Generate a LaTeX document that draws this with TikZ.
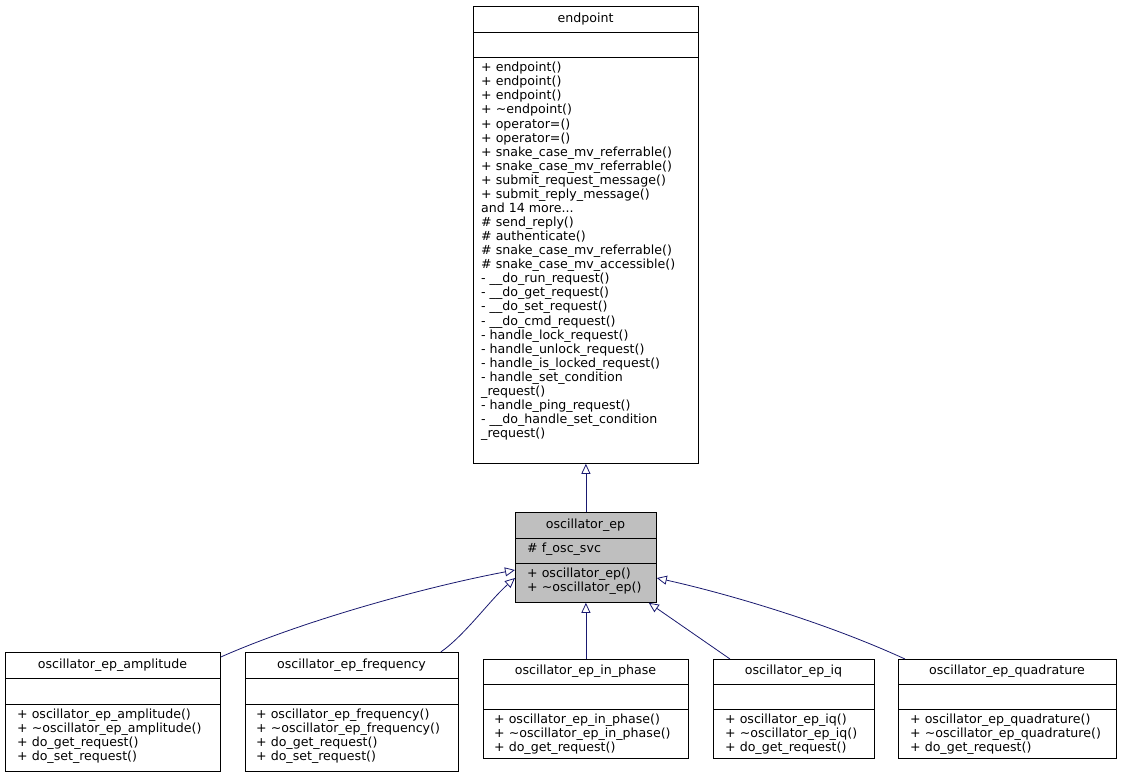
\documentclass[tikz,border=0pt]{standalone}
\usepackage{fontspec}
\setmainfont{DejaVu Sans}
\usetikzlibrary{arrows.meta}
\definecolor{edge}{HTML}{191970}
\newcommand{\tld}{\textasciitilde}
\tikzset{
  box/.style={draw=black, anchor=north west, inner sep=0pt, line width=0.8pt},
  txt/.style={font=\fontsize{12.6}{14.07}\selectfont, inner sep=0pt, align=left, anchor=north west},
  ttl/.style={font=\fontsize{12.6}{14}\selectfont, inner sep=0pt},
  inh/.style={draw=edge, line width=0.8pt, -{Triangle[open,length=10pt,width=9pt]}}
}
\newcommand{\cbox}[8]{%
  \node[box, fill=#8, minimum width=#3pt-#2pt, minimum height=#5pt-#4pt] (#1) at (#2,#4) {};
  \draw[line width=0.8pt] (#2,#6) -- (#3,#6);
  \draw[line width=0.8pt] (#2,#7) -- (#3,#7);
}
\begin{document}
\begin{tikzpicture}[x=1pt,y=-1pt]
\useasboundingbox (0,0) rectangle (1122,779);
\fill[white] (0,0) rectangle (1122,779);
\cbox{ep}{473}{698}{6}{463}{32}{57}{white}
\node[ttl] at (585.5,19) {endpoint};
\node[txt] at (481,62) {+ endpoint()\\+ endpoint()\\+ endpoint()\\+ \tld endpoint()\\+ operator=()\\+ operator=()\\+ snake\_case\_mv\_referrable()\\+ snake\_case\_mv\_referrable()\\+ submit\_request\_message()\\+ submit\_reply\_message()\\and 14 more...\\\# send\_reply()\\\# authenticate()\\\# snake\_case\_mv\_referrable()\\\# snake\_case\_mv\_accessible()\\- \_\_do\_run\_request()\\- \_\_do\_get\_request()\\- \_\_do\_set\_request()\\- \_\_do\_cmd\_request()\\- handle\_lock\_request()\\- handle\_unlock\_request()\\- handle\_is\_locked\_request()\\- handle\_set\_condition\\\_request()\\- handle\_ping\_request()\\- \_\_do\_handle\_set\_condition\\\_request()};
\cbox{osc}{515}{656}{512}{602}{538}{563}{black!25}
\node[ttl] at (585.5,525) {oscillator\_ep};
\node[txt] at (527,543) {\# f\_osc\_svc};
\node[txt] at (527,568) {+ oscillator\_ep()\\+ \tld oscillator\_ep()};
\cbox{amp}{5}{220}{652}{771}{678}{704}{white}
\node[ttl] at (112.5,665) {oscillator\_ep\_amplitude};
\node[txt] at (17,709) {+ oscillator\_ep\_amplitude()\\+ \tld oscillator\_ep\_amplitude()\\+ do\_get\_request()\\+ do\_set\_request()};
\cbox{frq}{245}{458}{652}{771}{678}{704}{white}
\node[ttl] at (351.5,665) {oscillator\_ep\_frequency};
\node[txt] at (256,709) {+ oscillator\_ep\_frequency()\\+ \tld oscillator\_ep\_frequency()\\+ do\_get\_request()\\+ do\_set\_request()};
\cbox{inp}{483}{688}{659}{758}{684}{709}{white}
\node[ttl] at (585.5,671.5) {oscillator\_ep\_in\_phase};
\node[txt] at (494,714) {+ oscillator\_ep\_in\_phase()\\+ \tld oscillator\_ep\_in\_phase()\\+ do\_get\_request()};
\cbox{iq}{713}{874}{659}{758}{684}{709}{white}
\node[ttl] at (793.5,671.5) {oscillator\_ep\_iq};
\node[txt] at (725,714) {+ oscillator\_ep\_iq()\\+ \tld oscillator\_ep\_iq()\\+ do\_get\_request()};
\cbox{quad}{898}{1116}{659}{758}{684}{709}{white}
\node[ttl] at (1007,671.5) {oscillator\_ep\_quadrature};
\node[txt] at (910,714) {+ oscillator\_ep\_quadrature()\\+ \tld oscillator\_ep\_quadrature()\\+ do\_get\_request()};
\draw[inh] (osc.north) -- (ep.south);
\draw[inh] ([yshift=-5pt]amp.north east) .. controls (300,622) and (420,588) .. ([yshift=-58pt]osc.north west);
\draw[inh] ([xshift=-18pt]frq.north east) .. controls (465,635) and (490,600) .. ([yshift=-66pt]osc.north west);
\draw[inh] (inp.north) -- (osc.south);
\draw[inh] ([xshift=17pt]iq.north west) -- ([xshift=-8pt]osc.south east);
\draw[inh] ([xshift=7pt]quad.north west) .. controls (820,620) and (720,592) .. ([yshift=-66pt]osc.north east);
\end{tikzpicture}
\end{document}
